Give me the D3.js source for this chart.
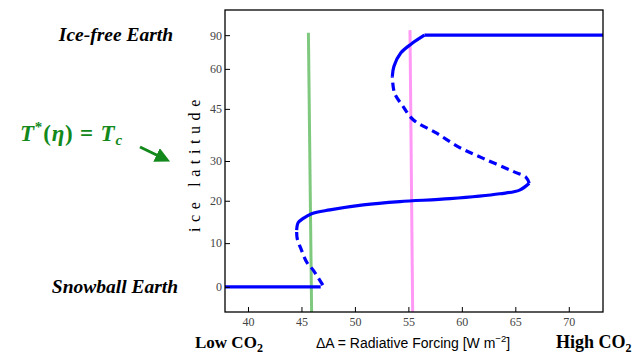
<!DOCTYPE html>
<html>
<head>
<meta charset="utf-8">
<script src="https://cdn.jsdelivr.net/npm/d3@7"></script>
<style>
  body { margin: 0; background: #fff; }
  svg text { font-family: "Liberation Serif", serif; }
</style>
</head>
<body>
<div id="chart"></div>
<script>
// x ticks and latitude ticks
var xTicks = [40, 45, 50, 55, 60, 65, 70];
var latTicks = [0, 10, 20, 30, 45, 60, 90];

// branches of the ice-line curve: forcing A and ice latitude (deg)
var lowA   = [37.8, 46.8];
var lowLat = [0, 0];
var unst1A   = [47.0, 46.1, 45.5, 45.0, 44.6, 44.55];
var unst1Lat = [0.4, 3.8, 5.6, 8.4, 11.1, 13.0];
var midA   = [44.55, 44.7, 45.17, 45.95, 47.66, 50.78, 54.2, 58.9, 63.55, 65.4, 66.3];
var midLat = [13.0, 14.8, 15.8, 16.9, 17.8, 19.0, 19.8, 20.5, 21.7, 22.6, 24.3];
var unst2A   = [66.3, 66.0, 64.8, 62.0, 59.8, 57.6, 55.45, 54.5, 53.7, 53.5];
var unst2Lat = [24.3, 25.8, 27.3, 30.7, 33.6, 37.7, 41.6, 45.8, 50.4, 56.8];
var highA   = [53.5, 53.65, 54.3, 55.3, 56.5, 73.3];
var highLat = [56.8, 61.2, 68.4, 75.0, 90, 90];

// vertical marker lines (A, sin-latitude units)
var greenA = [45.65, 45.95], greenS = [1.01, -0.1];
var pinkA  = [55.15, 55.4],  pinkS  = [1.02, -0.1];

var W = 633, H = 356;
var margin = {top: 10, right: 30, bottom: 44, left: 225};
var width = 603 - margin.left;
var height = 312 - margin.top;

var svg = d3.select("#chart").append("svg")
  .attr("width", W).attr("height", H);
var g = svg.append("g")
  .attr("transform", "translate(" + margin.left + "," + margin.top + ")");

var x = d3.scaleLinear().domain([37.85, 73.2]).range([0, width]);
var y = d3.scaleLinear().domain([-0.1, 1.1]).range([height, 0]);
var rad = Math.PI / 180;
function ys(lat) { return y(Math.sin(lat * rad)); }

function pts(a, l) { return a.map(function (d, i) { return [d, l[i]]; }); }

var smooth = d3.line()
  .x(function (d) { return x(d[0]); })
  .y(function (d) { return ys(d[1]); })
  .curve(d3.curveCatmullRom.alpha(0.5));
var straight = d3.line()
  .x(function (d) { return x(d[0]); })
  .y(function (d) { return ys(d[1]); });

g.append("clipPath").attr("id", "clip")
  .append("rect").attr("width", width).attr("height", height);
var plot = g.append("g").attr("clip-path", "url(#clip)");

// marker lines
var sline = d3.line()
  .x(function (d) { return x(d[0]); })
  .y(function (d) { return y(d[1]); });
plot.append("path").datum(pts(greenA, greenS))
  .attr("d", sline).attr("stroke", "#7fc97f").attr("stroke-width", 3).attr("fill", "none");
plot.append("path").datum(pts(pinkA, pinkS))
  .attr("d", sline).attr("stroke", "#ff99f5").attr("stroke-width", 3).attr("fill", "none");

// curve branches: [points, dashed]
var branches = [
  [pts(lowA, lowLat), false],
  [pts(unst1A, unst1Lat), true],
  [pts(midA, midLat), false],
  [pts(unst2A, unst2Lat), true],
  [pts(highA.slice(0, 5), highLat.slice(0, 5)), false],
  [pts(highA.slice(4), highLat.slice(4)), false]
];
branches.forEach(function (b) {
  plot.append("path").datum(b[0])
    .attr("d", b[0].length > 2 ? smooth : straight)
    .attr("fill", "none")
    .attr("stroke", "#0000ff")
    .attr("stroke-width", 3.2)
    .attr("stroke-dasharray", b[1] ? "8,5" : null);
});

// axes
var xAxis = d3.axisBottom(x).tickValues(xTicks).tickSizeInner(-5).tickSizeOuter(0).tickPadding(5);
var yAxis = d3.axisLeft(y)
  .tickValues(latTicks.map(function (d) { return Math.sin(d * rad); }))
  .tickFormat(function (v) { return Math.round(Math.asin(Math.min(1, v)) / rad); })
  .tickSizeInner(-5).tickSizeOuter(0).tickPadding(3);

var gx = g.append("g").attr("transform", "translate(0," + height + ")").call(xAxis);
var gy = g.append("g").call(yAxis);
[gx, gy].forEach(function (a) {
  a.select(".domain").remove();
  a.selectAll("text").attr("font-family", "Liberation Serif, serif").attr("font-size", 12).attr("fill", "#444");
  a.selectAll("line").attr("stroke", "#000");
});

g.append("rect").attr("width", width).attr("height", height)
  .attr("fill", "none").attr("stroke", "#000").attr("stroke-width", 1.3);

// labels
svg.append("text").attr("x", 194).attr("y", 163)
  .attr("transform", "rotate(-90,194,163)")
  .attr("text-anchor", "middle").attr("dy", "0.35em")
  .attr("font-size", 16).attr("letter-spacing", 5.6)
  .text("ice latitude");

svg.append("text").attr("x", 116).attr("y", 41)
  .attr("text-anchor", "middle").attr("font-size", 19.5)
  .attr("font-weight", "bold").attr("font-style", "italic")
  .text("Ice-free Earth");
svg.append("text").attr("x", 115).attr("y", 293)
  .attr("text-anchor", "middle").attr("font-size", 19.5)
  .attr("font-weight", "bold").attr("font-style", "italic")
  .text("Snowball Earth");

var lo = svg.append("text").attr("x", 195).attr("y", 348)
  .attr("font-size", 17).attr("font-weight", "bold");
lo.append("tspan").text("Low CO");
lo.append("tspan").attr("font-size", 12).attr("dy", 4).text("2");

var hi = svg.append("text").attr("x", 556).attr("y", 348)
  .attr("font-size", 18).attr("font-weight", "bold");
hi.append("tspan").text("High CO");
hi.append("tspan").attr("font-size", 12).attr("dy", 4).text("2");

var xl = svg.append("text").attr("x", 316).attr("y", 348)
  .attr("font-size", 14).style("font-family", "Liberation Sans, Arial, sans-serif");
xl.append("tspan").text("\u0394A = Radiative Forcing [W m");
xl.append("tspan").attr("font-size", 9.5).attr("dy", -6).text("\u22122");
xl.append("tspan").attr("dy", 6).text("]");

// T*(eta) = Tc annotation
var green = "#12891a";
var eq = svg.append("text").attr("x", 20).attr("y", 141)
  .attr("font-size", 23).attr("font-weight", "bold").attr("fill", green)
  .attr("letter-spacing", 0.8);
eq.append("tspan").attr("font-style", "italic").text("T");
eq.append("tspan").attr("font-size", 15).attr("dy", -9).text("*");
eq.append("tspan").attr("dy", 9).text("(");
eq.append("tspan").attr("font-style", "italic").text("\u03b7");
eq.append("tspan").text(") = ");
eq.append("tspan").attr("font-style", "italic").text("T");
eq.append("tspan").attr("font-style", "italic").attr("font-size", 15).attr("dy", 4).text("c");

svg.append("defs").append("marker").attr("id", "ah")
  .attr("viewBox", "0 0 10 10").attr("refX", 7).attr("refY", 5)
  .attr("markerWidth", 5).attr("markerHeight", 5).attr("orient", "auto")
  .append("path").attr("d", "M0,0 L10,5 L0,10 z").attr("fill", green);
svg.append("line").attr("x1", 140).attr("y1", 147).attr("x2", 166).attr("y2", 159.5)
  .attr("stroke", green).attr("stroke-width", 3).attr("marker-end", "url(#ah)");
</script>
</body>
</html>
